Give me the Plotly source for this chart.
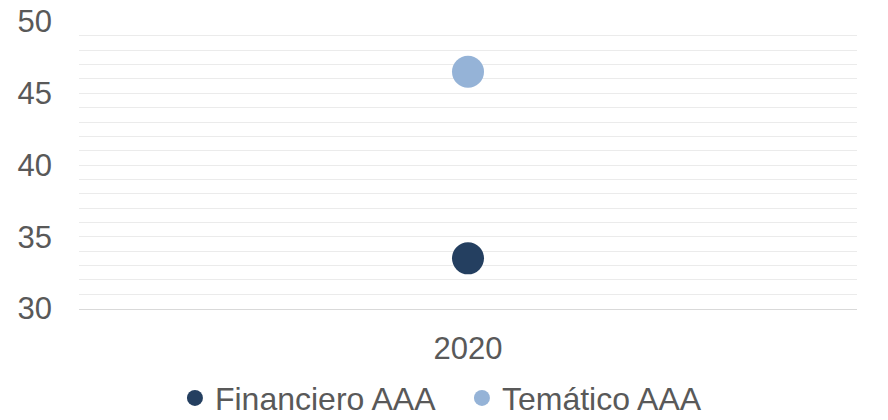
import plotly.graph_objects as go

categories = ["2020"]
financiero = [33.5]
tematico = [46.5]
series_names = ["Financiero AAA", "Temático AAA"]
colors = ["#243F60", "#95B3D7"]
ytick_vals = [30, 35, 40, 45, 50]

fig = go.Figure()
for name, vals, col in zip(series_names, [financiero, tematico], colors):
    fig.add_trace(go.Scatter(x=categories, y=vals, mode="markers", name=name,
                             marker=dict(size=32, color=col, line=dict(width=0))))

font = dict(family="Liberation Sans", size=31, color="#595959")
legend_font = dict(family="Liberation Sans", size=32, color="#595959")
fig.update_layout(
    width=888, height=420,
    margin=dict(l=79, r=31, t=21, b=111, autoexpand=False),
    paper_bgcolor="white", plot_bgcolor="white",
    font=font,
    showlegend=True,
    legend=dict(orientation="h", x=0.197, xanchor="left", xref="container",
                y=0.052, yanchor="middle", yref="container",
                font=legend_font, itemsizing="trace", itemwidth=30, tracegroupgap=0,
                entrywidth=242, entrywidthmode="pixels",
                bgcolor="rgba(0,0,0,0)"),
)
fig.update_xaxes(type="category", range=[-0.5, 0.5], showgrid=False, showline=True,
                 linecolor="#D9D9D9", linewidth=1, ticks="", tickfont=font,
                 ticklabelstandoff=12, automargin=False)
fig.update_yaxes(range=[29.97, 50.04], tickmode="array", tickvals=ytick_vals, showgrid=True,
                 gridcolor="#EBEBEB", gridwidth=1, zeroline=False, showline=False,
                 ticks="", tickfont=font, ticklabelstandoff=26, automargin=False,
                 minor=dict(dtick=1, showgrid=True, gridcolor="#EBEBEB", gridwidth=1))
fig.write_html("out.html")
